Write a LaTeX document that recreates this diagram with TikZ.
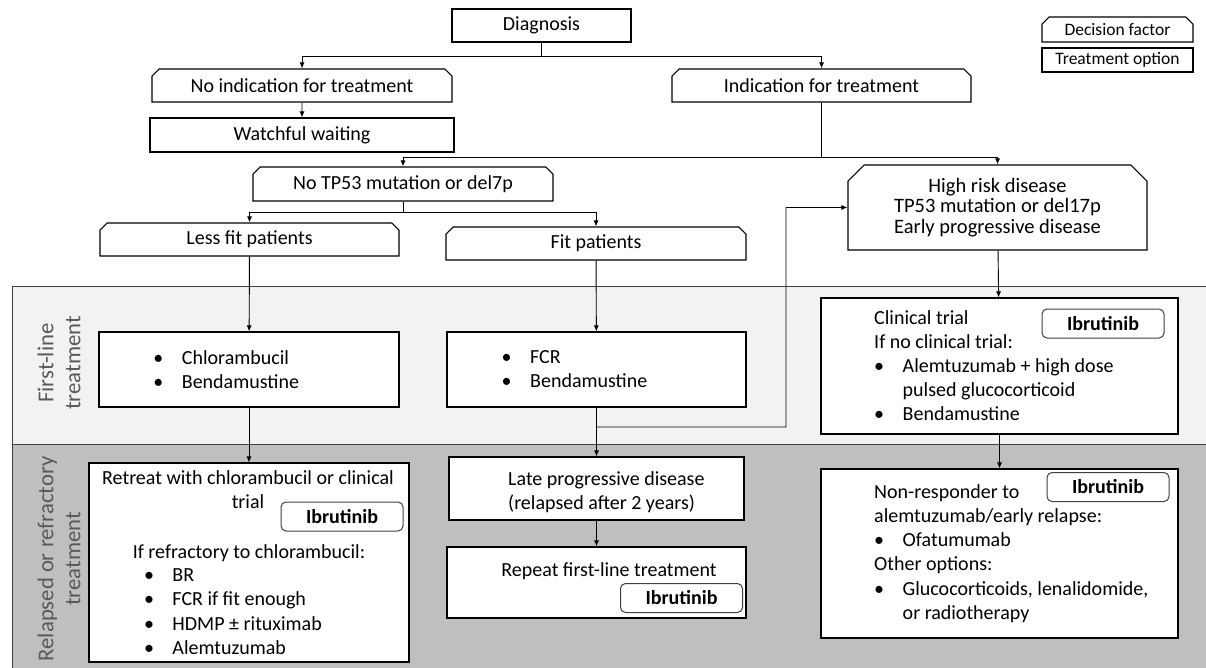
\documentclass[tikz,border=0pt]{standalone}
\usepackage{fontspec}
\setmainfont{Carlito}
\usetikzlibrary{arrows.meta,shapes.misc}

\definecolor{bandlight}{HTML}{F2F2F2}
\definecolor{banddark}{HTML}{BFBFBF}
\definecolor{bandline}{HTML}{404040}
\definecolor{labelgray}{HTML}{595959}

\newcommand{\fsz}{\fontsize{20}{24.2}\selectfont}
\newcommand{\bul}{\makebox[28.5pt][l]{\textbullet}}

\tikzset{
  treat/.style={rectangle,draw=black,fill=white,line width=1.1pt,inner sep=0pt},
  decide/.style={chamfered rectangle,chamfered rectangle corners={north west,north east},
    chamfered rectangle xsep=4pt,draw=black,fill=white,line width=1.1pt,inner sep=0pt},
  drug/.style={rectangle,rounded corners=5pt,draw=bandline,fill=white,line width=1pt,
    inner sep=0pt,minimum width=122pt,minimum height=29pt,font=\fsz\bfseries},
  txt/.style={inner sep=0pt},
  band/.style={rotate=90,align=center,inner sep=0pt,text=labelgray,
    font=\fontsize{22.7}{27}\selectfont},
  link/.style={draw=black,line width=0.9pt},
  arrow/.style={link,-{Latex[length=6pt,width=5pt]}}
}

\begin{document}
\begin{tikzpicture}[x=1pt,y=-1pt,font=\fsz]
\useasboundingbox (0,0) rectangle (1206,668);

% bands
\fill[bandlight] (12,286) rectangle (1206,444);
\fill[banddark] (12,444) rectangle (1206,668);
\draw[bandline,line width=1pt] (1206,286) -- (12,286) -- (12,668);
\draw[bandline,line width=1pt] (12,444) -- (1206,444);
\node[band] (lab1) at (59,363) {First-line\\treatment};
\node[band] (lab2) at (59,559) {Relapsed or refractory\\treatment};

% decision factors
\begin{scope}[every node/.append style={decide}]
  \node[minimum width=300pt,minimum height=33pt] (noind) at (302,85.5) {No indication for treatment};
  \node[minimum width=299pt,minimum height=33pt] (ind) at (821.5,85.5) {Indication for treatment};
  \node[minimum width=300pt,minimum height=34pt] (notp) at (403,184) {No TP53 mutation or del7p};
  \node[minimum width=299pt,minimum height=33pt] (lessfit) at (249.5,239.5) {Less fit patients};
  \node[minimum width=300pt,minimum height=33pt] (fit) at (596,243.5) {Fit patients};
  \node[minimum width=299pt,minimum height=85pt,chamfered rectangle xsep=13pt,align=center,
    font=\fontsize{20.5}{20.5}\selectfont] (high) at (997.5,207.5)
    {High risk disease\\TP53 mutation or del17p\\Early progressive disease};
  \node[minimum width=295pt,minimum height=63pt,chamfered rectangle xsep=7pt] (late) at (596.5,488.5) {};
  \node[minimum width=151pt,minimum height=25pt,font=\fontsize{17.5}{20}\selectfont] (legdec) at (1117.5,29.5) {Decision factor};
\end{scope}

% treatment options
\begin{scope}[every node/.append style={treat}]
  \node[minimum width=179pt,minimum height=33pt] (diag) at (541.5,25.5) {Diagnosis};
  \node[minimum width=304pt,minimum height=34pt] (watch) at (302,135) {Watchful waiting};
  \node[minimum width=300pt,minimum height=75pt] (chlor) at (249,369.5) {};
  \node[minimum width=299pt,minimum height=75pt] (fcr) at (596.5,369.5) {};
  \node[minimum width=357pt,minimum height=136pt] (clin) at (999.5,366) {};
  \node[minimum width=320pt,minimum height=199pt] (retreat) at (249,562.5) {};
  \node[minimum width=299pt,minimum height=71pt] (repeat) at (596.5,582.5) {};
  \node[minimum width=357pt,minimum height=169pt] (nonresp) at (999.5,553.5) {};
  \node[minimum width=151pt,minimum height=24pt,font=\fontsize{17.5}{20}\selectfont] (legopt) at (1117.5,60) {Treatment option};
\end{scope}

% box texts
\node[txt,anchor=base west] (chlortxt) at (153.2,364)
  {\begin{tabular}[t]{@{}l@{}}\bul Chlorambucil\\\bul Bendamustine\end{tabular}};
\node[txt,anchor=base west] (fcrtxt) at (501.5,363.5)
  {\begin{tabular}[t]{@{}l@{}}\bul FCR\\\bul Bendamustine\end{tabular}};
\node[txt,anchor=base west] (clintxt) at (874,324)
  {\begin{tabular}[t]{@{}l@{}}Clinical trial\\If no clinical trial:\\\bul Alemtuzumab + high dose\\
   \hspace*{28.5pt}pulsed glucocorticoid\\\bul Bendamustine\end{tabular}};
\node[txt,anchor=base west] (nonresptxt) at (874,498.3)
  {\begin{tabular}[t]{@{}l@{}}Non-responder to\\alemtuzumab/early relapse:\\\bul Ofatumumab\\Other options:\\
   \bul Glucocorticoids, lenalidomide,\\\hspace*{28.5pt}or radiotherapy\end{tabular}};
\node[txt,anchor=base] (retreattxt) at (248,484)
  {\begin{tabular}[t]{@{}c@{}}Retreat with chlorambucil or clinical\\trial\end{tabular}};
\node[txt,anchor=base] (reftxt) at (249,558.3) {If refractory to chlorambucil:};
\node[txt,anchor=base west] (reflist) at (143.8,581.7)
  {\begin{tabular}[t]{@{}l@{}}\bul BR\\\bul FCR if fit enough\\\bul HDMP ± rituximab\\\bul Alemtuzumab\end{tabular}};
\node[txt,anchor=base west] (latetxt) at (508,485)
  {\begin{tabular}[t]{@{}l@{}}Late progressive disease\\(relapsed after 2 years)\end{tabular}};
\node[txt,anchor=base] (repeattxt) at (609,576.7) {Repeat first-line treatment};

% ibrutinib
\node[drug] (ib1) at (342,516.5) {Ibrutinib};
\node[drug] (ib2) at (681.5,598) {Ibrutinib};
\node[drug] (ib3) at (1103,323.5) {Ibrutinib};
\node[drug] (ib4) at (1108,487) {Ibrutinib};

% connectors
\coordinate (s1) at (541.5,56);
\coordinate (s2) at (821.5,157);
\coordinate (s3) at (403,212);
\coordinate (s4) at (596.5,427);
\coordinate (s5) at (786,207.5);

\draw[link] (diag) -- (s1);
\draw[arrow] (s1) -| (noind);
\draw[arrow] (s1) -| (ind);
\draw[link] (ind) -- (s2);
\draw[arrow] (s2) -| (notp);
\draw[arrow] (s2) -| (high);
\draw[link] (notp) -- (s3);
\draw[arrow] (s3) -| (lessfit);
\draw[arrow] (s3) -| (fit);
\draw[arrow] (s4) -| (s5) -- (high);

\begin{scope}[every edge/.style={arrow}]
  \path (noind) edge (watch);
  \path (lessfit) edge (chlor);
  \path (chlor) edge (retreat);
  \path (fit) edge (fcr);
  \path (fcr) edge (late);
  \path (late) edge (repeat);
  \path (high) edge (clin);
  \path (clin) edge (nonresp);
\end{scope}

\end{tikzpicture}
\end{document}
